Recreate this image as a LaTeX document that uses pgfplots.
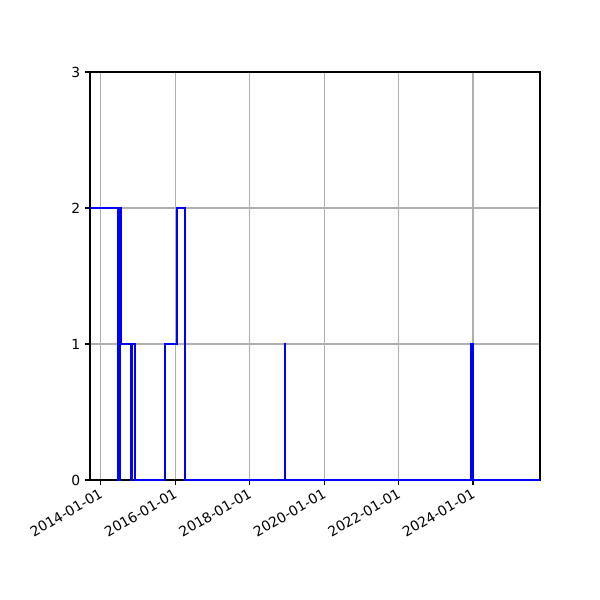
\documentclass[border=0pt]{standalone}
\usepackage{pgfplots}
\pgfplotsset{compat=1.18}
\usepgfplotslibrary{dateplot}
\usepackage{fontspec}
\setmainfont{DejaVu Sans}

\begin{document}
\begin{tikzpicture}
\path[use as bounding box] (0,0) rectangle (432pt,432pt);
\begin{axis}[
    at={(64.8pt,86.4pt)}, anchor=south west,
    scale only axis,
    width=324pt, height=293.76pt,
    date coordinates in=x,
    xmin=2013-09-18, xmax=2025-10-19,
    ymin=0, ymax=3,
    xtick={2014-01-01,2016-01-01,2018-01-01,2020-01-01,2022-01-01,2024-01-01},
    xticklabels={2014-01-01,2016-01-01,2018-01-01,2020-01-01,2022-01-01,2024-01-01},
    ytick={0,1,2,3},
    xticklabel style={rotate=30, anchor=east, xshift=1pt, yshift=-5pt},
    tick align=outside,
    tick pos=left,
    major tick length=3.5pt,
    tick style={black, line width=0.8pt},
    axis line style={line width=0.8pt},
    grid=major,
    grid style={color={rgb,255:red,176;green,176;blue,176}, line width=0.8pt},
    tick label style={font=\fontsize{10}{12}\selectfont},
    /pgf/number format/assume math mode=true,
]
\addplot[const plot, color={rgb:red,0;green,0;blue,1}, line width=1.5pt] table {
x y
2013-09-18 2
2014-06-16 0
2014-07-06 2
2014-07-21 1
2014-10-22 0
2014-11-04 1
2014-11-30 0
2015-09-25 1
2016-01-16 2
2016-04-04 0
2018-12-11 1
2018-12-18 0
2023-12-16 1
2023-12-29 0
2025-10-19 0
};
\end{axis}
\end{tikzpicture}
\end{document}
